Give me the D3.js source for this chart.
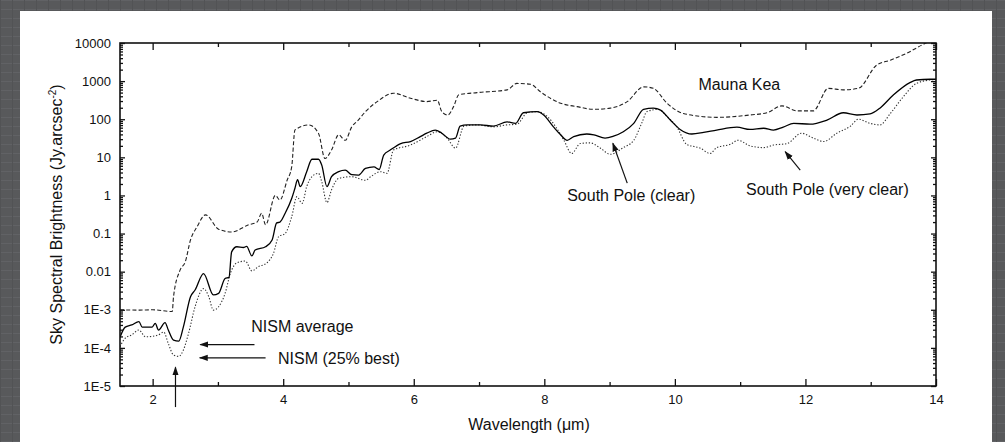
<!DOCTYPE html>
<html>
<head>
<meta charset="utf-8">
<script src="https://cdn.jsdelivr.net/npm/d3@7"></script>
<style>
  html, body { margin: 0; padding: 0; background: #58595b; }
  svg { display: block; }
  text { font-family: "Liberation Sans", Arial, Helvetica, sans-serif; fill: #111; }
</style>
</head>
<body>
<script>
// wavelength (um), brightness (Jy/arcsec^2)
const maunaKea = [
  [1.5, 1.0e-3], [1.8, 9.8e-4], [2.0, 1.0e-3], [2.3, 9.0e-4], [2.32, 2.2e-3], [2.42, 0.011],
  [2.5, 0.018], [2.58, 0.068], [2.68, 0.15], [2.81, 0.31], [3.01, 0.13], [3.21, 0.11],
  [3.47, 0.17], [3.6, 0.20], [3.67, 0.34], [3.73, 0.17], [3.88, 1.0], [3.95, 0.76],
  [4.06, 2.5], [4.13, 5.6], [4.18, 52], [4.39, 71], [4.54, 43], [4.64, 9.3], [4.74, 15.5],
  [4.85, 39], [4.95, 28], [5.05, 63], [5.15, 95], [5.26, 158], [5.44, 290], [5.69, 480],
  [5.95, 355], [6.2, 290], [6.36, 316], [6.43, 158], [6.52, 129], [6.61, 214], [6.69, 437],
  [6.97, 500], [7.43, 590], [7.58, 870], [7.79, 830], [7.94, 525], [8.25, 263], [8.5, 214],
  [8.76, 182], [9.01, 195], [9.27, 290], [9.52, 708], [9.67, 646], [9.88, 263], [10.13, 141],
  [10.64, 112], [11.15, 129], [11.41, 148], [11.64, 224], [11.87, 166], [12.12, 166],
  [12.35, 646], [12.58, 590], [12.81, 646], [13.09, 2630], [13.3, 3550], [13.55, 5370],
  [13.81, 9330], [14.0, 13000]
];
const southPoleClear = [
  [1.5, 1.9e-4], [1.58, 3.5e-4], [1.68, 4.0e-4], [1.79, 4.9e-4], [1.84, 3.5e-4], [1.99, 3.5e-4],
  [2.04, 4.4e-4], [2.09, 2.95e-4], [2.19, 4.6e-4], [2.24, 2.95e-4], [2.32, 1.6e-4], [2.4, 1.5e-4],
  [2.47, 3.5e-4], [2.58, 2.2e-3], [2.65, 3.3e-3], [2.78, 8.9e-3], [2.93, 2.45e-3], [3.01, 2.7e-3],
  [3.11, 6.6e-3], [3.17, 7.1e-3], [3.21, 0.033], [3.29, 0.045], [3.39, 0.043], [3.44, 0.046],
  [3.52, 0.026], [3.57, 0.037], [3.73, 0.045], [3.83, 0.068], [3.9, 0.19], [3.95, 0.20],
  [4.03, 0.34], [4.13, 0.83], [4.18, 1.55], [4.22, 2.6], [4.26, 1.7], [4.36, 4.2], [4.44, 8.9],
  [4.54, 8.9], [4.59, 6.3], [4.67, 1.7], [4.74, 3.1], [4.85, 4.2], [4.95, 4.6], [5.05, 3.5],
  [5.15, 3.4], [5.26, 5.1], [5.39, 5.6], [5.47, 4.8], [5.54, 11.5], [5.64, 15.5], [5.8, 23],
  [5.95, 26], [6.1, 35], [6.2, 43], [6.33, 52], [6.43, 43], [6.56, 30], [6.64, 32], [6.71, 66],
  [6.82, 71], [7.02, 71], [7.22, 66], [7.43, 85], [7.56, 78], [7.68, 148], [7.89, 158],
  [7.99, 129], [8.14, 63], [8.25, 39], [8.35, 28], [8.45, 35], [8.65, 41], [8.76, 39],
  [8.93, 32], [9.06, 36], [9.21, 47], [9.37, 78], [9.52, 182], [9.67, 195], [9.78, 174],
  [9.93, 95], [10.08, 54], [10.26, 41], [10.44, 45], [10.64, 52], [10.95, 62], [11.15, 54],
  [11.36, 58], [11.51, 52], [11.66, 62], [11.82, 78], [12.07, 74], [12.33, 95], [12.58, 148],
  [12.79, 129], [12.99, 138], [13.14, 195], [13.35, 437], [13.6, 912], [13.7, 1070],
  [13.91, 1120], [14.0, 1120]
];
const southPoleVeryClear = [
  [1.5, 1.07e-4], [1.58, 1.8e-4], [1.68, 2.2e-4], [1.79, 2.95e-4], [1.89, 1.95e-4], [1.99, 2.0e-4],
  [2.09, 2.2e-4], [2.17, 2.6e-4], [2.24, 1.3e-4], [2.32, 6.5e-5], [2.4, 6.0e-5], [2.47, 8.7e-5],
  [2.55, 2.4e-4], [2.65, 1.2e-3], [2.78, 3.6e-3], [2.86, 2.2e-3], [2.93, 9.8e-4], [3.01, 1.2e-3],
  [3.11, 2.7e-3], [3.19, 8.9e-3], [3.29, 0.017], [3.42, 0.019], [3.52, 0.0105], [3.62, 0.0135],
  [3.75, 0.017], [3.85, 0.030], [3.93, 0.083], [4.03, 0.10], [4.13, 0.275], [4.21, 0.93],
  [4.29, 0.62], [4.36, 1.7], [4.44, 3.1], [4.54, 3.8], [4.59, 2.3], [4.67, 0.65], [4.74, 1.4],
  [4.85, 2.8], [5.05, 3.1], [5.26, 2.5], [5.34, 3.1], [5.49, 4.2], [5.59, 3.8], [5.69, 15.5],
  [5.95, 21], [6.2, 35], [6.36, 47], [6.51, 32], [6.64, 17.4], [6.77, 66], [6.97, 71],
  [7.22, 63], [7.43, 71], [7.58, 74], [7.74, 148], [7.89, 158], [8.04, 120], [8.19, 58],
  [8.3, 28], [8.42, 12.6], [8.55, 23], [8.7, 24], [8.86, 17.4], [9.01, 12], [9.21, 18],
  [9.37, 28], [9.5, 85], [9.57, 158], [9.75, 182], [9.88, 117], [10.03, 63], [10.18, 22],
  [10.39, 17.4], [10.54, 12.6], [10.64, 18], [10.85, 22], [10.97, 28], [11.15, 20], [11.36, 18],
  [11.51, 21], [11.72, 23], [11.94, 43], [12.12, 32], [12.28, 26], [12.48, 43], [12.69, 66],
  [12.81, 100], [12.99, 78], [13.14, 71], [13.3, 141], [13.5, 390], [13.7, 870], [13.91, 1070],
  [14.0, 1100]
];

const xMajor = [2, 4, 6, 8, 10, 12, 14];
const xMinor = [3, 5, 7, 9, 11, 13];
const yMajor = [1e-5, 1e-4, 1e-3, 0.01, 0.1, 1, 10, 100, 1000, 10000];
const yLabels = ["1E-5", "1E-4", "1E-3", "0.01", "0.1", "1", "10", "100", "1000", "10000"];

// annotations: text start [um, Jy]; arrows tail -> tip [um, Jy]
const labels = [
  { text: "Mauna Kea", at: [10.36, 590] },
  { text: "South Pole (clear)", at: [8.35, 0.72] },
  { text: "South Pole (very clear)", at: [11.09, 1.0] },
  { text: "NISM average", at: [3.51, 2.6e-4] },
  { text: "NISM (25% best)", at: [3.92, 3.7e-5] }
];
const arrows = [
  { from: [3.56, 1.22e-4], to: [2.73, 1.22e-4] },
  { from: [3.73, 5.5e-5], to: [2.72, 5.5e-5] },
  { from: [2.35, 2.8e-6], to: [2.35, 3.1e-5] },
  { from: [9.27, 2.1], to: [9.05, 23.4] },
  { from: [11.92, 4.6], to: [11.69, 14.1] }
];

const W = 1005, H = 442;
const plot = { left: 120, right: 936, top: 43, bottom: 386 };

const svg = d3.select("body").append("svg")
  .attr("width", W).attr("height", H);

// textured backdrop
const defs = svg.append("defs");
const pat = defs.append("pattern").attr("id", "stone")
  .attr("width", 24).attr("height", 18).attr("patternUnits", "userSpaceOnUse");
pat.append("rect").attr("width", 24).attr("height", 18).attr("fill", "#58595b");
pat.append("path").attr("d", "M0 0.5H24M0 9.5H24").attr("stroke", "#616265").attr("stroke-width", 1);
pat.append("path").attr("d", "M0.5 0V18M12.5 0V18").attr("stroke", "#525355").attr("stroke-width", 1);
svg.append("rect").attr("width", W).attr("height", H).attr("fill", "url(#stone)");
svg.append("rect").attr("x", 20).attr("y", 11).attr("width", 972).attr("height", H - 11).attr("fill", "#fff");

defs.append("clipPath").attr("id", "clip").append("rect")
  .attr("x", plot.left).attr("y", plot.top)
  .attr("width", plot.right - plot.left).attr("height", plot.bottom - plot.top);
defs.append("marker").attr("id", "head")
  .attr("viewBox", "0 0 10 10").attr("refX", 9).attr("refY", 5)
  .attr("markerWidth", 9).attr("markerHeight", 9).attr("markerUnits", "userSpaceOnUse")
  .attr("orient", "auto")
  .append("path").attr("d", "M0,1.5 L10,5 L0,8.5 Z").attr("fill", "#111");

const x = d3.scaleLinear().domain([1.5, 14]).range([plot.left, plot.right]);
const y = d3.scaleLog().domain([1e-5, 1e4]).range([plot.bottom, plot.top]);

const line = d3.line().x(d => x(d[0])).y(d => y(d[1])).curve(d3.curveMonotoneX);

const curves = svg.append("g").attr("clip-path", "url(#clip)").attr("fill", "none");
curves.append("path").datum(maunaKea).attr("d", line)
  .attr("stroke", "#222").attr("stroke-width", 1.1).attr("stroke-dasharray", "4,2.2");
curves.append("path").datum(southPoleVeryClear).attr("d", line)
  .attr("stroke", "#333").attr("stroke-width", 1.1).attr("stroke-dasharray", "1.3,1.8");
curves.append("path").datum(southPoleClear).attr("d", line)
  .attr("stroke", "#000").attr("stroke-width", 1.3);

// axes, ticks pointing inward on all four sides
const yMinor = y.ticks().filter(v => !yMajor.some(m => Math.abs(m - v) / m < 1e-6));

function styleAxis(g) {
  g.select(".domain").remove();
  g.selectAll(".tick line").attr("stroke", "#111").attr("stroke-width", 1.3);
  g.selectAll(".tick text").attr("font-size", 13).attr("fill", "#111")
    .style("font-family", "'Liberation Sans', Arial, sans-serif");
}

svg.append("g").attr("transform", `translate(0,${plot.bottom})`)
  .call(d3.axisBottom(x).tickValues(xMajor).tickSizeInner(-7).tickSizeOuter(0).tickPadding(9).tickFormat(d3.format("d")))
  .call(styleAxis);
svg.append("g").attr("transform", `translate(0,${plot.bottom})`)
  .call(d3.axisBottom(x).tickValues(xMinor).tickSizeInner(-4).tickSizeOuter(0).tickFormat(""))
  .call(styleAxis);
svg.append("g").attr("transform", `translate(0,${plot.top})`)
  .call(d3.axisTop(x).tickValues(xMajor).tickSizeInner(-7).tickSizeOuter(0).tickFormat(""))
  .call(styleAxis);
svg.append("g").attr("transform", `translate(0,${plot.top})`)
  .call(d3.axisTop(x).tickValues(xMinor).tickSizeInner(-4).tickSizeOuter(0).tickFormat(""))
  .call(styleAxis);

svg.append("g").attr("transform", `translate(${plot.left},0)`)
  .call(d3.axisLeft(y).tickValues(yMajor).tickSizeInner(-5).tickSizeOuter(0).tickPadding(9)
    .tickFormat((d, i) => yLabels[i]))
  .call(styleAxis);
svg.append("g").attr("transform", `translate(${plot.left},0)`)
  .call(d3.axisLeft(y).tickValues(yMinor).tickSizeInner(-3).tickSizeOuter(0).tickFormat(""))
  .call(styleAxis);
svg.append("g").attr("transform", `translate(${plot.right},0)`)
  .call(d3.axisRight(y).tickValues(yMajor).tickSizeInner(-5).tickSizeOuter(0).tickFormat(""))
  .call(styleAxis);
svg.append("g").attr("transform", `translate(${plot.right},0)`)
  .call(d3.axisRight(y).tickValues(yMinor).tickSizeInner(-3).tickSizeOuter(0).tickFormat(""))
  .call(styleAxis);

svg.append("rect")
  .attr("x", plot.left).attr("y", plot.top)
  .attr("width", plot.right - plot.left).attr("height", plot.bottom - plot.top)
  .attr("fill", "none").attr("stroke", "#111").attr("stroke-width", 1.6);

// axis titles
svg.append("text")
  .attr("x", 529).attr("y", 430)
  .attr("text-anchor", "middle").attr("font-size", 16)
  .text("Wavelength (\u03bcm)");

const yt = svg.append("text")
  .attr("transform", `translate(62,${(plot.top + plot.bottom) / 2}) rotate(-90)`)
  .attr("text-anchor", "middle").attr("font-size", 16);
yt.append("tspan").text("Sky Spectral Brightness (Jy.arcsec");
yt.append("tspan").attr("font-size", 10).attr("dy", -6).text("-2");
yt.append("tspan").attr("dy", 6).text(")");

// annotations
svg.append("g").selectAll("text").data(labels).join("text")
  .attr("x", d => x(d.at[0])).attr("y", d => y(d.at[1]))
  .attr("font-size", 16)
  .text(d => d.text);

svg.append("g").selectAll("line").data(arrows).join("line")
  .attr("x1", d => x(d.from[0])).attr("y1", d => y(d.from[1]))
  .attr("x2", d => x(d.to[0])).attr("y2", d => y(d.to[1]))
  .attr("stroke", "#111").attr("stroke-width", 1.2)
  .attr("marker-end", "url(#head)");
</script>
</body>
</html>
